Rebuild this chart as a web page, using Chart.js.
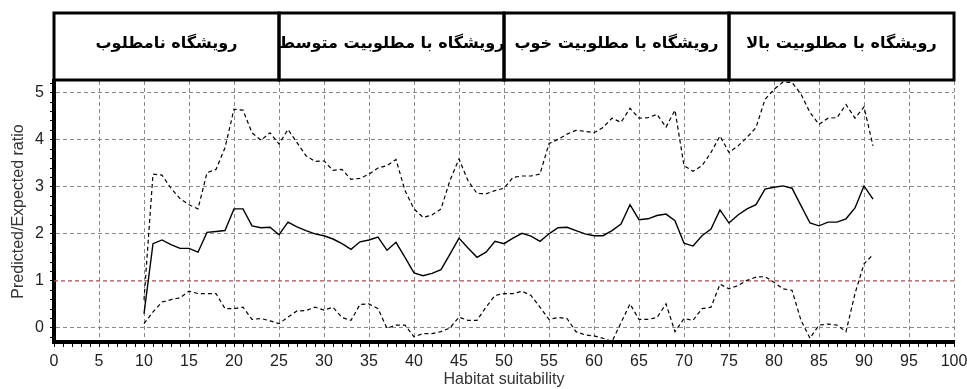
<!DOCTYPE html>
<html lang="en">
<head>
  <meta charset="UTF-8" />
  <title>Predicted/Expected ratio by habitat suitability</title>
  <script src="https://cdn.jsdelivr.net/npm/chart.js"></script>
  <style>
    body { margin: 0; background: #fff; }
    #wrap { width: 967px; height: 389px; }
  </style>
</head>
<body>
  <div id="wrap"><canvas id="peChart" width="967" height="389"></canvas></div>

  <script>
    // ---------------------------------------------------------------
    // Data (x = habitat suitability)
    // ---------------------------------------------------------------
    const habitat = [
      10, 11, 12, 13, 14, 15, 16, 17, 18, 19, 20, 21, 22, 23, 24, 25, 26, 27, 28, 29, 30,
      31, 32, 33, 34, 35, 36, 37, 38, 39, 40,
      41, 42, 43, 44, 45, 46, 47, 48, 49, 50,
      51, 52, 53, 54, 55, 56, 57, 58, 59, 60,
      61, 62, 63, 64, 65, 66, 67, 68, 69, 70,
      71, 72, 73, 74, 75, 76, 77, 78, 79, 80,
      81, 82, 83, 84, 85, 86, 87, 88, 89, 90,
      91
    ];

    const meanRatio = [
      0.30, 1.79, 1.87, 1.77, 1.69, 1.69, 1.61, 2.03, 2.05, 2.07, 2.53, 2.53, 2.17, 2.13, 2.14, 1.98, 2.25, 2.15, 2.07, 2.00, 1.96,
      1.89, 1.79, 1.67, 1.83, 1.87, 1.93, 1.65, 1.82, 1.50, 1.17,
      1.11, 1.16, 1.24, 1.57, 1.91, 1.70, 1.50, 1.61, 1.84, 1.79,
      1.91, 2.01, 1.95, 1.84, 2.00, 2.13, 2.14, 2.07, 2.00, 1.96,
      1.96, 2.07, 2.21, 2.62, 2.30, 2.32, 2.39, 2.42, 2.28, 1.80,
      1.74, 1.96, 2.10, 2.51, 2.23, 2.40, 2.53, 2.62, 2.95, 2.99,
      3.02, 2.97, 2.60, 2.23, 2.17, 2.25, 2.25, 2.32, 2.55, 3.02,
      2.74
    ];

    const upperRatio = [
      0.60, 3.27, 3.25, 2.97, 2.75, 2.62, 2.53, 3.30, 3.37, 3.83, 4.65, 4.63, 4.15, 3.99, 4.15, 3.91, 4.22, 3.94, 3.66, 3.54, 3.55,
      3.35, 3.37, 3.16, 3.18, 3.27, 3.40, 3.45, 3.58, 2.92, 2.53,
      2.35, 2.40, 2.53, 3.14, 3.59, 3.13, 2.86, 2.85, 2.92, 2.97,
      3.20, 3.23, 3.23, 3.27, 3.92, 4.01, 4.12, 4.20, 4.18, 4.15,
      4.26, 4.46, 4.37, 4.67, 4.46, 4.47, 4.54, 4.27, 4.63, 3.45,
      3.33, 3.45, 3.73, 4.08, 3.73, 3.87, 4.05, 4.26, 4.86, 5.07,
      5.23, 5.22, 4.97, 4.58, 4.33, 4.46, 4.47, 4.75, 4.46, 4.70,
      3.87
    ];

    const lowerRatio = [
      0.09, 0.34, 0.55, 0.60, 0.64, 0.78, 0.73, 0.73, 0.73, 0.41, 0.41, 0.44, 0.18, 0.20, 0.15, 0.09, 0.23, 0.36, 0.37, 0.44, 0.38,
      0.44, 0.22, 0.16, 0.50, 0.51, 0.41, -0.01, 0.06, 0.06, -0.19,
      -0.12, -0.12, -0.08, 0.00, 0.23, 0.16, 0.16, 0.44, 0.69, 0.73,
      0.73, 0.78, 0.69, 0.44, 0.18, 0.22, 0.20, -0.08, -0.15, -0.17,
      -0.22, -0.29, 0.11, 0.51, 0.18, 0.18, 0.22, 0.51, -0.08, 0.20,
      0.16, 0.41, 0.44, 0.93, 0.83, 0.90, 1.01, 1.08, 1.09, 0.97,
      0.83, 0.80, 0.16, -0.22, 0.06, 0.08, 0.06, -0.08, 0.73, 1.36,
      1.56
    ];

    const refRatio = 1;

    const xTickLabels = [0, 5, 10, 15, 20, 25, 30, 35, 40, 45, 50, 55, 60, 65, 70, 75, 80, 85, 90, 95, 100];
    const yTickLabels = [0, 1, 2, 3, 4, 5];

    const zoneBounds = [0, 25, 50, 75, 100];
    const zoneLabels = [
      'رویشگاه نامطلوب',
      'رویشگاه با مطلوبیت متوسط',
      'رویشگاه با مطلوبیت خوب',
      'رویشگاه با مطلوبیت بالا'
    ];

    // ---------------------------------------------------------------
    // Helpers
    // ---------------------------------------------------------------
    const toPoints = (ys) => habitat.map((x, i) => ({ x: x, y: ys[i] }));
    const GRID = '#8a8a8a';
    const NONE = 'rgba(0,0,0,0)';

    // zone boxes above the plot
    const zonePlugin = {
      id: 'zones',
      afterDraw(chart) {
        const { ctx, scales: { x } } = chart;
        const top = 13, bottom = 80;
        ctx.save();
        ctx.strokeStyle = '#000';
        ctx.lineWidth = 3;
        ctx.fillStyle = '#000';
        ctx.font = 'bold 16px "DejaVu Sans"';
        ctx.textAlign = 'center';
        ctx.textBaseline = 'middle';
        ctx.direction = 'rtl';
        for (let i = 0; i < zoneLabels.length; i++) {
          const l = x.getPixelForValue(zoneBounds[i]);
          const r = x.getPixelForValue(zoneBounds[i + 1]);
          ctx.strokeRect(l, top, r - l, bottom - top);
          ctx.fillText(zoneLabels[i], (l + r) / 2, 44);
        }
        ctx.restore();
      }
    };

    new Chart(document.getElementById('peChart'), {
      type: 'line',
      data: {
        datasets: [
          { data: toPoints(meanRatio), borderColor: '#000', borderWidth: 1.4, order: 1 },
          { data: toPoints(upperRatio), borderColor: '#000', borderWidth: 1.2, borderDash: [4, 3], order: 2 },
          { data: toPoints(lowerRatio), borderColor: '#000', borderWidth: 1.2, borderDash: [4, 3], order: 3 },
          {
            data: [{ x: 0, y: refRatio }, { x: 100, y: refRatio }],
            borderColor: '#b34a4a', borderWidth: 1.2, borderDash: [4, 3], order: 4
          }
        ]
      },
      options: {
        responsive: false,
        animation: false,
        layout: { padding: { top: 81, right: 13, left: 0, bottom: 0 } },
        elements: { point: { radius: 0 }, line: { tension: 0 } },
        plugins: { legend: { display: false }, tooltip: { enabled: false } },
        scales: {
          x: {
            type: 'linear',
            min: 0,
            max: 100,
            afterFit: (s) => { s.height = 47; s.paddingLeft = 0; s.paddingRight = 0; },
            afterBuildTicks: (s) => { s.ticks = Array.from({ length: 101 }, (_, i) => ({ value: i })); },
            ticks: {
              autoSkip: false,
              maxRotation: 0,
              padding: 5,
              color: '#222',
              font: { family: 'Liberation Sans', size: 16 },
              callback: (v) => (xTickLabels.includes(v) ? String(v) : '')
            },
            grid: {
              color: (c) => (c.tick && xTickLabels.includes(c.tick.value) && c.tick.value !== 0 ? GRID : NONE),
              tickColor: '#000',
              tickLength: 5,
              lineWidth: 1
            },
            border: { display: true, color: '#000', width: 4, dash: [4, 3] },
            title: {
              display: true,
              text: 'Habitat suitability',
              color: '#333',
              font: { family: 'Liberation Sans', size: 16 },
              padding: { top: 0, bottom: 0 }
            }
          },
          y: {
            min: -0.3,
            max: 5.25,
            afterFit: (s) => { s.width = 54; s.paddingTop = 0; s.paddingBottom = 0; },
            afterBuildTicks: (s) => {
              const t = [];
              for (let k = -1; k <= 26; k++) t.push({ value: Math.round(k * 2) / 10 });
              s.ticks = t;
            },
            ticks: {
              autoSkip: false,
              padding: 6,
              color: '#222',
              font: { family: 'Liberation Sans', size: 16 },
              callback: (v) => (yTickLabels.includes(v) ? String(v) : '')
            },
            grid: {
              color: (c) => (c.tick && yTickLabels.includes(c.tick.value) && c.tick.value !== refRatio ? GRID : NONE),
              tickColor: '#000',
              tickLength: 4,
              lineWidth: 1
            },
            border: { display: true, color: '#000', width: 4, dash: [4, 3] },
            title: {
              display: true,
              text: 'Predicted/Expected ratio',
              color: '#333',
              font: { family: 'Liberation Sans', size: 16 },
              padding: { top: 9, bottom: 0 }
            }
          }
        }
      },
      plugins: [zonePlugin]
    });
  </script>
</body>
</html>
